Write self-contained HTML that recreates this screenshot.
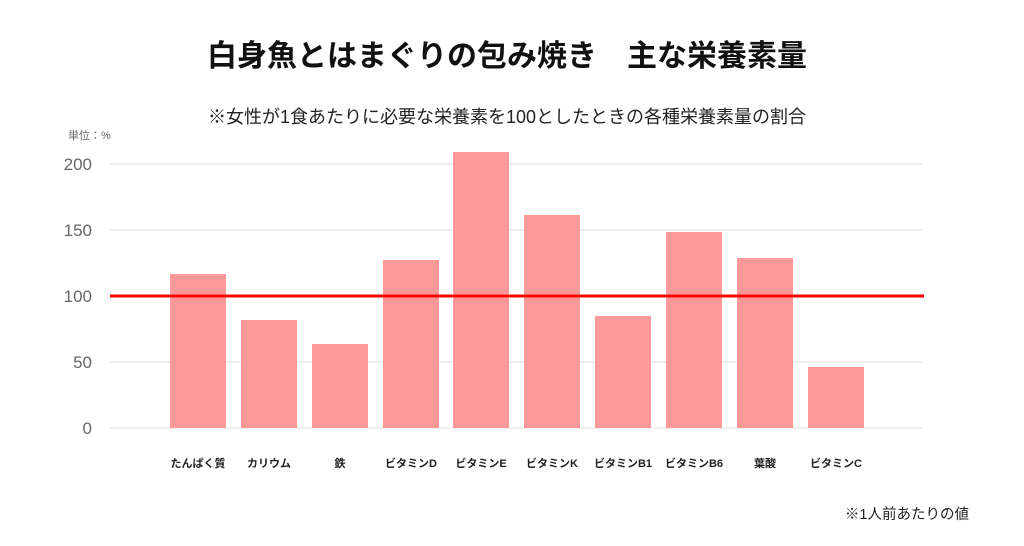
<!DOCTYPE html>
<html><head><meta charset="utf-8"><style>
body{margin:0;background:#fff;}
svg text{font-family:"Liberation Sans","Noto Sans CJK JP",sans-serif;}
</style></head><body>
<svg width="1024" height="541" viewBox="0 0 1024 541" xmlns="http://www.w3.org/2000/svg">
<rect width="1024" height="541" fill="#fff"/>
<text x="507" y="66" text-anchor="middle" font-size="30" font-weight="bold" fill="#111">白身魚とはまぐりの包み焼き　主な栄養素量</text>
<text x="507" y="123" text-anchor="middle" font-size="18" fill="#222">※女性が1食あたりに必要な栄養素を100としたときの各種栄養素量の割合</text>
<text x="68" y="139" font-size="11" fill="#666">単位：%</text>
<g stroke="#ddd" stroke-width="1">
<line x1="110" y1="164" x2="922" y2="164"/>
<line x1="110" y1="230" x2="922" y2="230"/>
<line x1="110" y1="362" x2="922" y2="362"/>
<line x1="110" y1="428" x2="922" y2="428"/>
</g>
<g font-size="17" fill="#666" text-anchor="end">
<text x="92" y="170">200</text>
<text x="92" y="236">150</text>
<text x="92" y="302">100</text>
<text x="92" y="368">50</text>
<text x="92" y="434">0</text>
</g>
<g fill="#ff9999">
<rect x="170" y="274" width="56" height="154"/>
<rect x="241" y="320" width="56" height="108"/>
<rect x="312" y="344" width="56" height="84"/>
<rect x="383" y="260" width="56" height="168"/>
<rect x="453" y="152" width="56" height="276"/>
<rect x="524" y="215" width="56" height="213"/>
<rect x="595" y="316" width="56" height="112"/>
<rect x="666" y="232" width="56" height="196"/>
<rect x="737" y="258" width="56" height="170"/>
<rect x="808" y="367" width="56" height="61"/>
</g>
<line x1="110" y1="296" x2="924" y2="296" stroke="#ff0000" stroke-width="3"/>
<g font-size="11" font-weight="bold" fill="#222" text-anchor="middle">
<text x="198" y="467">たんぱく質</text>
<text x="269" y="467">カリウム</text>
<text x="340" y="467">鉄</text>
<text x="411" y="467">ビタミンD</text>
<text x="481" y="467">ビタミンE</text>
<text x="552" y="467">ビタミンK</text>
<text x="623" y="467">ビタミンB1</text>
<text x="694" y="467">ビタミンB6</text>
<text x="765" y="467">葉酸</text>
<text x="836" y="467">ビタミンC</text>
</g>
<text x="969" y="519" text-anchor="end" font-size="14.5" fill="#222">※1人前あたりの値</text>
</svg>
</body></html>
